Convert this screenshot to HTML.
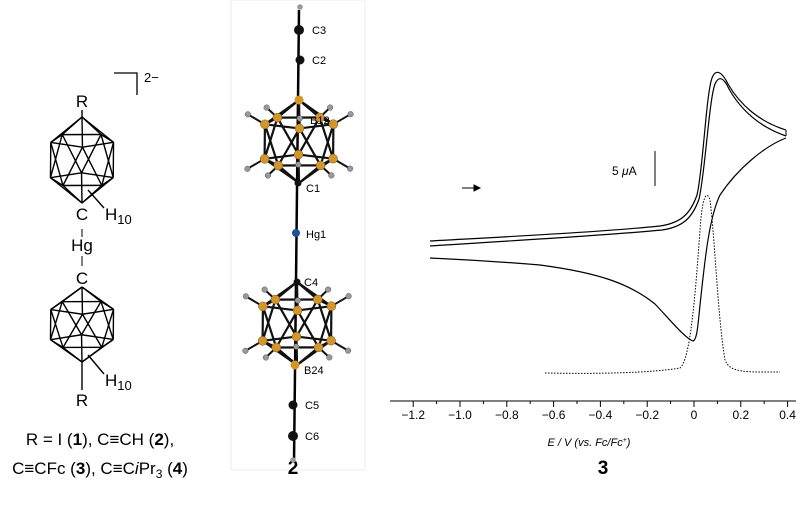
<!DOCTYPE html>
<html><head><meta charset="utf-8"><style>
html,body{margin:0;padding:0;background:#fff;}
svg{display:block;font-family:"Liberation Sans",sans-serif;}
</style></head><body>
<svg id="s" width="800" height="506" viewBox="0 0 800 506" xmlns="http://www.w3.org/2000/svg">
<rect width="800" height="506" fill="#fff"/>
<rect x="231" y="0" width="134" height="470" fill="none" stroke="#eee"/>
<g id="left" stroke="#000" fill="none" stroke-width="1.4"></g>
<g font-size="17" fill="#000" text-anchor="middle">
<text x="82" y="107">R</text>
<text x="82" y="220">C</text>
<text x="82" y="251">Hg</text>
<text x="82" y="284">C</text>
<text x="82" y="406">R</text>
<text x="105" y="220" text-anchor="start">H<tspan font-size="13" dy="4">10</tspan></text>
<text x="105" y="386" text-anchor="start">H<tspan font-size="13" dy="4">10</tspan></text>
<text x="144" y="82" font-size="13" text-anchor="start">2−</text>
<text x="100" y="445">R = I (<tspan font-weight="bold">1</tspan>), C≡CH (<tspan font-weight="bold">2</tspan>),</text>
<text x="100" y="474">C≡CFc (<tspan font-weight="bold">3</tspan>), C≡C<tspan font-style="italic">i</tspan>Pr<tspan font-size="12" dy="4">3</tspan><tspan dy="-4"> (</tspan><tspan font-weight="bold">4</tspan>)</text>
<text x="293" y="474" font-weight="bold" font-size="19">2</text>
<text x="603" y="474" font-weight="bold" font-size="19">3</text>
</g>
<path d="M114 73 H137 V95" stroke="#000" fill="none" stroke-width="1.3"/>
<line x1="82" y1="237" x2="82" y2="229" stroke="#000"/>
<line x1="82" y1="256" x2="82" y2="266" stroke="#000"/>
<g id="mid"></g>
<g font-size="11" fill="#000">
<text x="312" y="34">C3</text><text x="312" y="64">C2</text><text x="310" y="124">B12</text>
<text x="306" y="192">C1</text><text x="306" y="238">Hg1</text><text x="304" y="286">C4</text>
<text x="304" y="374">B24</text><text x="305" y="409">C5</text><text x="305" y="440">C6</text>
</g>
<g stroke="#000" fill="none">
<line x1="390" y1="401" x2="796" y2="401" stroke-width="1"/>
<g id="ticks"></g>
<path d="M430 241 C520 236 600 232 660 226 C680 223 690 215 697 195 C703 170 706 95 712 78 C716 68 722 72 728 84 C740 105 760 122 786 130" stroke-width="1.2"/>
<path d="M430 246 C520 240 600 236 662 230 C682 227 692 219 699 199 C705 174 709 100 715 84 C719 75 724 78 729 89 C741 110 760 127 786 136" stroke-width="1.2"/>
<path d="M786 130 L786 136"/>
<path d="M786 138 C765 146 738 168 720 195 C708 220 704 270 700 305 C698 325 697 340 693 341 C685 338 672 322 655 304 C630 284 600 273 540 265 C480 260 450 259 430 258" stroke-width="1.2"/>
<path d="M545 373 C600 374 650 373 680 368 C690 360 695 300 700 230 C702 200 706 188 710 200 C715 240 718 320 725 360 C730 373 745 372 780 372" stroke-width="1" stroke-dasharray="1.5,1.5"/>
<line x1="462" y1="188" x2="478" y2="188"/>
<path d="M474 185 L480 188 L474 191Z" fill="#000"/>
<line x1="655" y1="151" x2="655" y2="186"/>
</g>
<text x="612" y="175" font-size="12">5 <tspan font-style="italic">μ</tspan>A</text>
<g id="labs" font-size="12" text-anchor="middle"></g>
<text x="589" y="446" font-size="11" font-style="italic" text-anchor="middle">E / V (vs. Fc/Fc<tspan font-size="7" dy="-4">+</tspan><tspan dy="4">)</tspan></text>
</svg>
<script>
var NS="http://www.w3.org/2000/svg";
function el(p,t,a){var e=document.createElementNS(NS,t);for(var k in a)e.setAttribute(k,a[k]);p.appendChild(e);return e;}
var T=document.getElementById('ticks'),L=document.getElementById('labs');
for(var i=-12;i<=4;i++){var x=694+i*23.4;el(T,'line',{x1:x,y1:401,x2:x,y2:i%2==0?407:404});
if(i%2==0){var t=el(L,'text',{x:x,y:419});t.textContent=i==0?'0':(i<0?'−':'')+Math.abs(i/10).toFixed(1);}}
function ico(cx,ya,yb,r,tilt){var v={A:[cx,ya],B:[cx,yb]},r1=[],r2=[],h=yb-ya;
for(var k=0;k<5;k++){var a=k*2*Math.PI/5+0.3,b=a+Math.PI/5;
r1.push([cx+r*Math.cos(a),ya+h*0.27+tilt*Math.sin(a)]);
r2.push([cx+r*Math.cos(b),ya+h*0.73+tilt*Math.sin(b)]);}
var e=[];for(k=0;k<5;k++){e.push([v.A,r1[k]],[r1[k],r1[(k+1)%5]],[r1[k],r2[k]],[r1[(k+1)%5],r2[k]],[r2[k],r2[(k+1)%5]],[r2[k],v.B]);}
return {e:e,r1:r1,r2:r2,A:v.A,B:v.B};}
var Lg=document.getElementById('left');
el(Lg,'line',{x1:82,y1:110,x2:82,y2:117});
[[117,203],[287,362]].forEach(function(p){var c=ico(82,p[0],p[1],33,7);
c.e.forEach(function(s){el(Lg,'line',{x1:s[0][0],y1:s[0][1],x2:s[1][0],y2:s[1][1]});});});
el(Lg,'line',{x1:82,y1:362,x2:82,y2:390});
el(Lg,'line',{x1:88,y1:190,x2:104,y2:208});
el(Lg,'line',{x1:88,y1:355,x2:104,y2:374});
var M=document.getElementById('mid');
el(M,'line',{x1:299,y1:10,x2:294,y2:462,stroke:'#000','stroke-width':2.5});
var atoms=[];
[[299,100,183],[297,282,365]].forEach(function(p){var c=ico(p[0],p[1],p[2],36,6);
c.e.forEach(function(s){el(M,'line',{x1:s[0][0],y1:s[0][1],x2:s[1][0],y2:s[1][1],stroke:'#111','stroke-width':2.2});});
c.r1.concat(c.r2).forEach(function(q){var hx=p[0]+(q[0]-p[0])*1.5,hy=q[1]+(q[1]<(p[1]+p[2])/2?-10:10);
el(M,'line',{x1:q[0],y1:q[1],x2:hx,y2:hy,stroke:'#111','stroke-width':2});atoms.push([hx,hy,2.8,'#999']);atoms.push([q[0],q[1],4.5,'#d9961f']);});});
atoms.forEach(function(a){el(M,'circle',{cx:a[0],cy:a[1],r:a[2],fill:a[3],stroke:'#555','stroke-width':0.5});});
[[299,100,4.5,'#d9961f'],[295,365,4.5,'#d9961f'],[298,183,3.5,'#111'],[297,282,3.5,'#111'],[296,233,4,'#1f4f9a'],[299,30,5,'#111'],[300,60,4.5,'#111'],[293,405,4.5,'#111'],[293,436,5,'#111'],[300,7,2.8,'#999'],[293,460,2.8,'#999']].forEach(function(a){el(M,'circle',{cx:a[0],cy:a[1],r:a[2],fill:a[3]});});
</script>
</body></html>
